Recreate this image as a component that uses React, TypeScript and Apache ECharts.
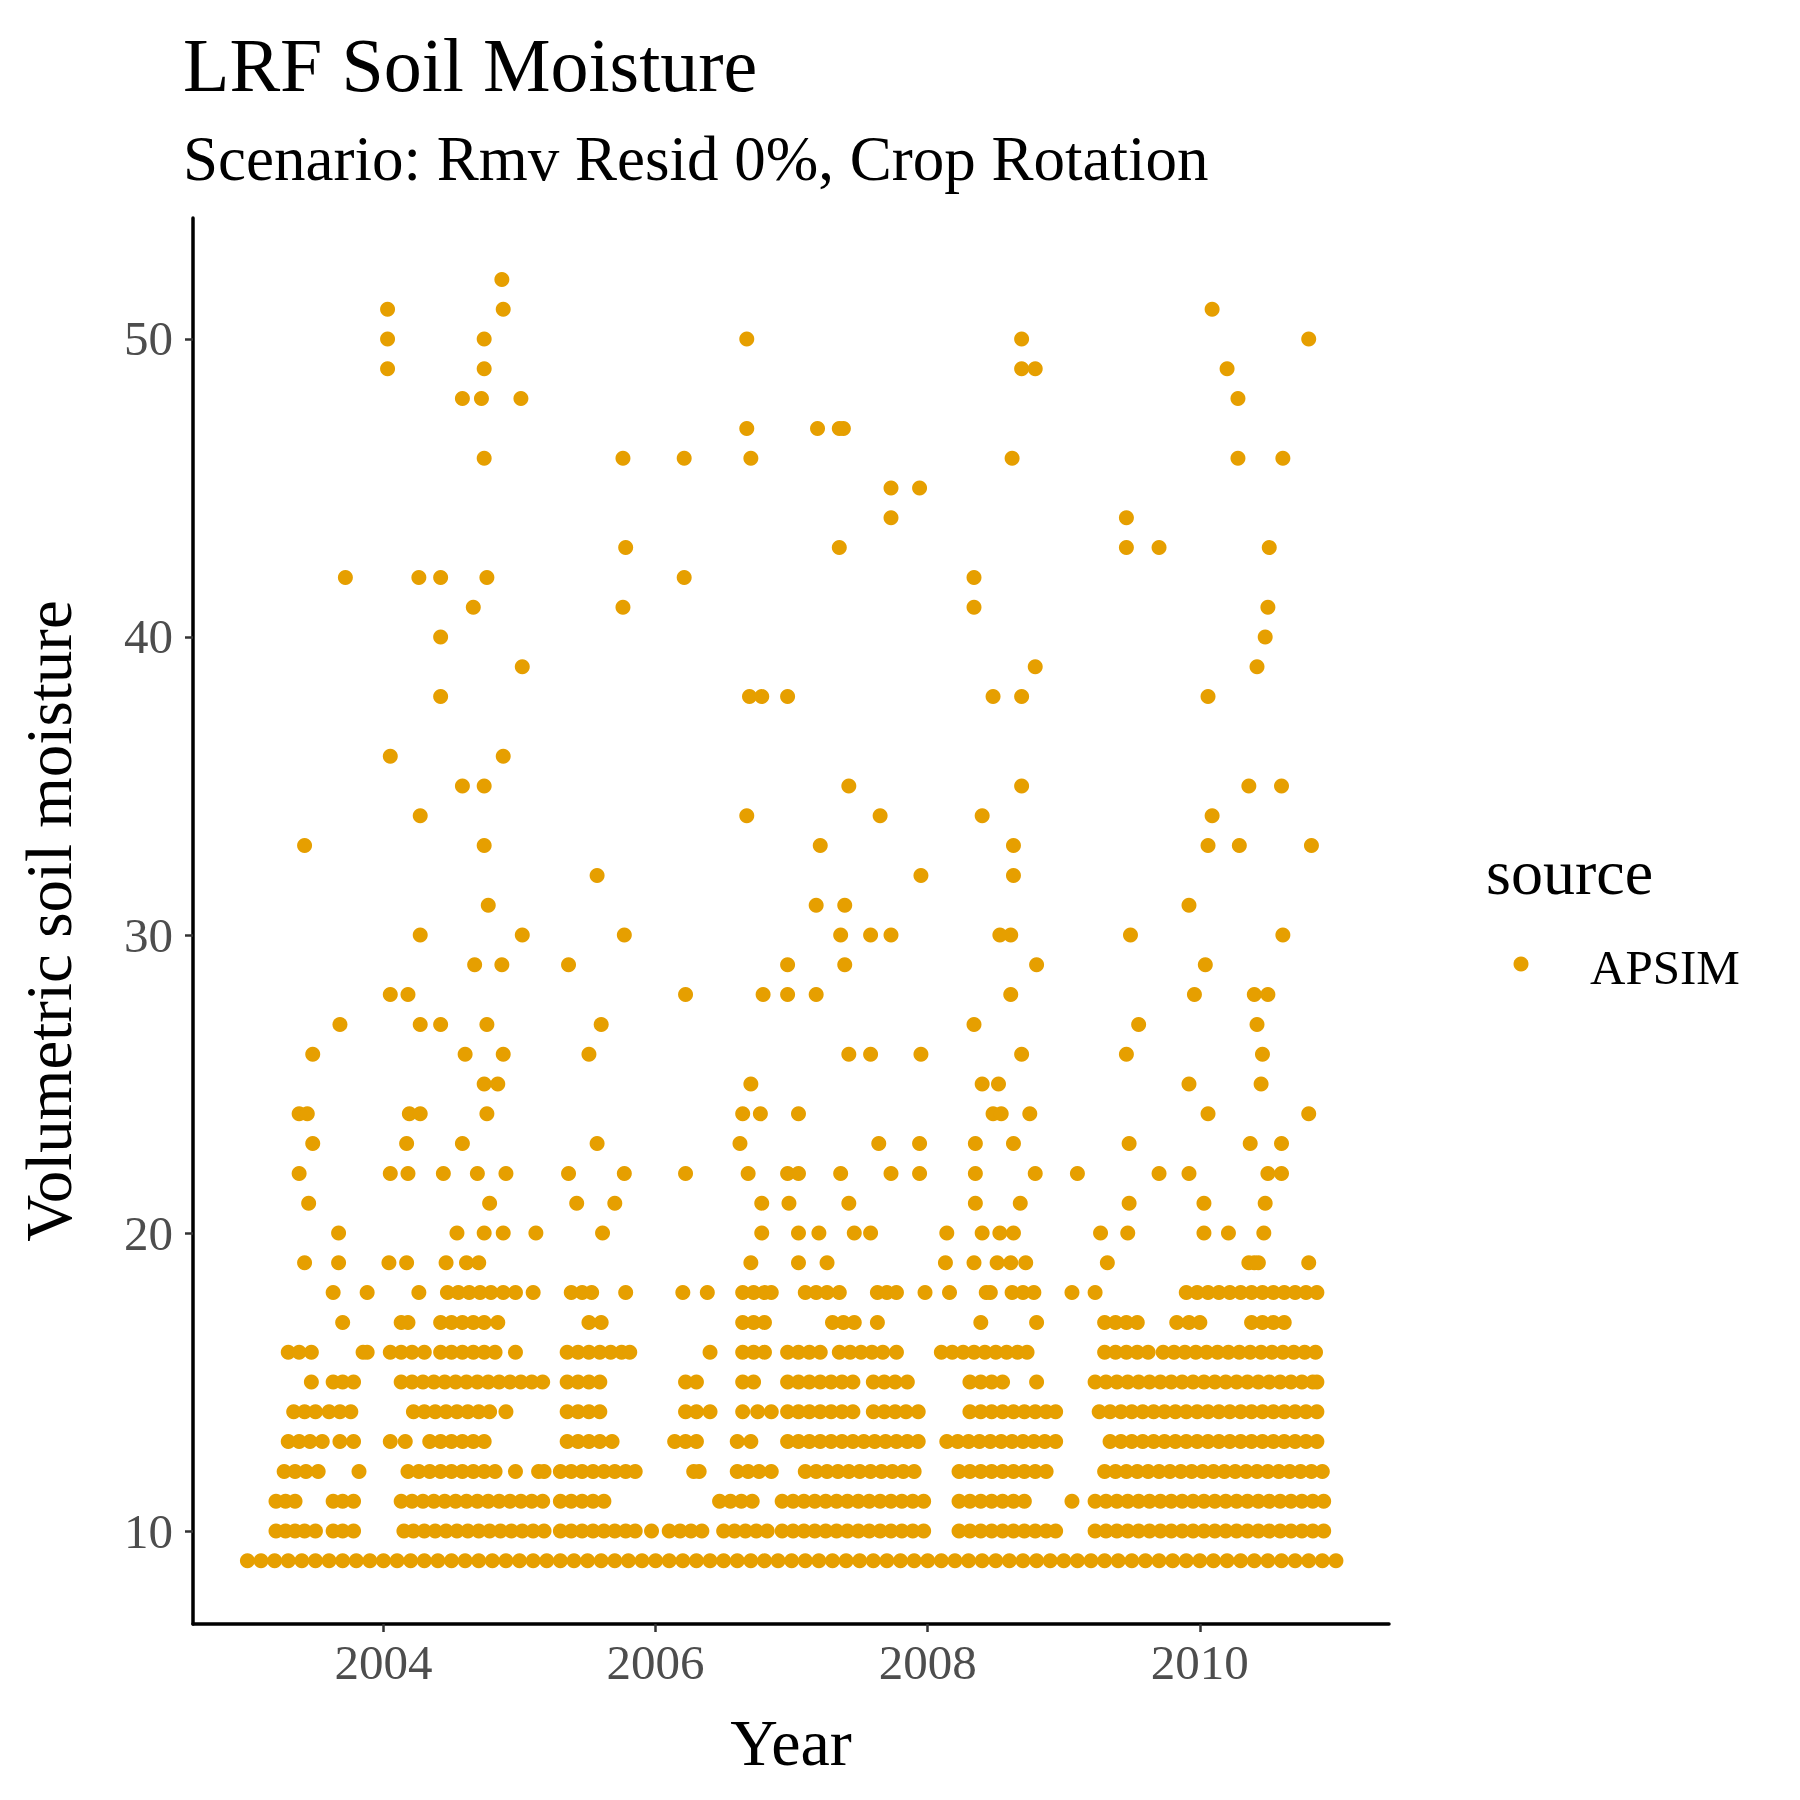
import React, { useEffect, useRef } from "react";
import * as echarts from "echarts";

const xTicks = [2004, 2006, 2008, 2010];
const yTicks = [10, 20, 30, 40, 50];
const seriesName = "APSIM";

const level9 = [2003.0,2003.1,2003.2,2003.3,2003.4,2003.5,2003.6,2003.7,2003.8,2003.9,2004.0,2004.1,2004.2,2004.3,2004.4,2004.5,2004.6,2004.7,2004.8,2004.9,2005.0,2005.1,2005.2,2005.3,2005.4,2005.5,2005.6,2005.7,2005.8,2005.9,2006.0,2006.1,2006.2,2006.3,2006.4,2006.5,2006.6,2006.7,2006.8,2006.9,2007.0,2007.1,2007.2,2007.3,2007.4,2007.5,2007.6,2007.7,2007.8,2007.9,2008.0,2008.1,2008.2,2008.3,2008.4,2008.5,2008.6,2008.7,2008.8,2008.9,2009.0,2009.1,2009.2,2009.3,2009.4,2009.5,2009.6,2009.7,2009.8,2009.9,2010.0,2010.1,2010.2,2010.3,2010.4,2010.5,2010.6,2010.7,2010.8,2010.9,2011.0];
const level10 = [2003.21,2003.28,2003.35,2003.42,2003.5,2003.63,2003.7,2003.78,2004.15,2004.22,2004.3,2004.38,2004.46,2004.54,2004.62,2004.7,2004.78,2004.86,2004.94,2005.02,2005.1,2005.18,2005.3,2005.38,2005.46,2005.54,2005.62,2005.7,2005.78,2005.85,2005.97,2006.1,2006.18,2006.26,2006.34,2006.5,2006.58,2006.66,2006.74,2006.82,2006.93,2007.01,2007.09,2007.17,2007.25,2007.33,2007.41,2007.49,2007.57,2007.65,2007.73,2007.81,2007.89,2007.97,2008.23,2008.31,2008.39,2008.47,2008.55,2008.63,2008.71,2008.79,2008.87,2008.94,2009.23,2009.31,2009.39,2009.47,2009.55,2009.63,2009.71,2009.79,2009.87,2009.95,2010.03,2010.11,2010.19,2010.27,2010.35,2010.43,2010.51,2010.59,2010.67,2010.75,2010.83,2010.91];
const level11 = [2003.21,2003.28,2003.35,2003.63,2003.7,2003.78,2004.13,2004.21,2004.29,2004.37,2004.45,2004.53,2004.61,2004.69,2004.77,2004.85,2004.93,2005.01,2005.09,2005.17,2005.3,2005.38,2005.46,2005.54,2005.62,2006.47,2006.55,2006.63,2006.71,2006.93,2007.01,2007.09,2007.17,2007.25,2007.33,2007.41,2007.49,2007.57,2007.65,2007.73,2007.81,2007.89,2007.97,2008.23,2008.31,2008.39,2008.47,2008.55,2008.63,2008.71,2009.06,2009.23,2009.31,2009.39,2009.47,2009.55,2009.63,2009.71,2009.79,2009.87,2009.95,2010.03,2010.11,2010.19,2010.27,2010.35,2010.43,2010.51,2010.59,2010.67,2010.75,2010.83,2010.91];
const level12 = [2003.27,2003.35,2003.43,2003.52,2003.82,2004.18,2004.26,2004.34,2004.42,2004.5,2004.58,2004.66,2004.74,2004.82,2004.97,2005.14,2005.18,2005.3,2005.38,2005.46,2005.54,2005.62,2005.7,2005.78,2005.85,2006.28,2006.32,2006.6,2006.68,2006.76,2006.85,2007.1,2007.18,2007.26,2007.34,2007.42,2007.5,2007.58,2007.66,2007.74,2007.82,2007.9,2008.23,2008.31,2008.39,2008.47,2008.55,2008.63,2008.71,2008.79,2008.87,2009.3,2009.38,2009.46,2009.54,2009.62,2009.7,2009.78,2009.86,2009.94,2010.02,2010.1,2010.18,2010.26,2010.34,2010.42,2010.5,2010.58,2010.66,2010.74,2010.82,2010.9];
const level13 = [2003.3,2003.38,2003.46,2003.55,2003.68,2003.78,2004.05,2004.16,2004.34,2004.42,2004.5,2004.58,2004.66,2004.74,2005.35,2005.43,2005.51,2005.59,2005.68,2006.14,2006.22,2006.3,2006.6,2006.7,2006.97,2007.05,2007.13,2007.21,2007.29,2007.37,2007.45,2007.53,2007.61,2007.69,2007.77,2007.85,2007.93,2008.14,2008.22,2008.3,2008.38,2008.46,2008.54,2008.62,2008.7,2008.78,2008.86,2008.94,2009.34,2009.42,2009.5,2009.58,2009.66,2009.74,2009.82,2009.9,2009.98,2010.06,2010.14,2010.22,2010.3,2010.38,2010.46,2010.54,2010.62,2010.7,2010.78,2010.86];
const level14 = [2003.34,2003.42,2003.5,2003.6,2003.68,2003.76,2004.22,2004.3,2004.38,2004.46,2004.54,2004.62,2004.7,2004.78,2004.9,2005.35,2005.43,2005.51,2005.59,2006.22,2006.3,2006.4,2006.64,2006.75,2006.85,2006.97,2007.05,2007.13,2007.21,2007.29,2007.37,2007.45,2007.6,2007.68,2007.76,2007.84,2007.93,2008.31,2008.39,2008.47,2008.55,2008.63,2008.71,2008.79,2008.87,2008.94,2009.26,2009.34,2009.42,2009.5,2009.58,2009.66,2009.74,2009.82,2009.9,2009.98,2010.06,2010.14,2010.22,2010.3,2010.38,2010.46,2010.54,2010.62,2010.7,2010.78,2010.86];
const level15 = [2003.47,2003.63,2003.7,2003.78,2004.13,2004.21,2004.29,2004.37,2004.45,2004.53,2004.61,2004.69,2004.77,2004.85,2004.93,2005.01,2005.09,2005.17,2005.35,2005.43,2005.51,2005.59,2006.22,2006.3,2006.64,2006.72,2006.97,2007.05,2007.13,2007.21,2007.29,2007.37,2007.45,2007.6,2007.68,2007.76,2007.85,2008.31,2008.39,2008.47,2008.55,2008.8,2009.23,2009.31,2009.39,2009.47,2009.55,2009.63,2009.71,2009.79,2009.87,2009.95,2010.03,2010.11,2010.19,2010.27,2010.35,2010.43,2010.51,2010.59,2010.67,2010.75,2010.83,2010.86];
const level16 = [2003.3,2003.38,2003.47,2003.85,2003.88,2004.05,2004.13,2004.21,2004.3,2004.42,2004.5,2004.58,2004.66,2004.74,2004.82,2004.97,2005.35,2005.43,2005.51,2005.59,2005.67,2005.75,2005.81,2006.4,2006.64,2006.72,2006.8,2006.97,2007.05,2007.13,2007.21,2007.35,2007.43,2007.51,2007.59,2007.67,2007.77,2008.1,2008.18,2008.26,2008.34,2008.42,2008.5,2008.58,2008.66,2008.73,2009.3,2009.38,2009.46,2009.54,2009.62,2009.73,2009.81,2009.89,2009.97,2010.05,2010.13,2010.21,2010.29,2010.37,2010.45,2010.53,2010.61,2010.69,2010.77,2010.85];
const level17 = [2003.7,2004.13,2004.18,2004.42,2004.5,2004.58,2004.66,2004.74,2004.84,2005.51,2005.6,2006.64,2006.72,2006.8,2007.3,2007.38,2007.46,2007.63,2008.39,2008.8,2009.3,2009.38,2009.46,2009.54,2009.83,2009.92,2010.0,2010.38,2010.46,2010.54,2010.62];
const level18 = [2003.63,2003.88,2004.26,2004.47,2004.55,2004.63,2004.71,2004.79,2004.88,2004.97,2005.1,2005.38,2005.46,2005.53,2005.78,2006.2,2006.38,2006.64,2006.72,2006.8,2006.85,2007.1,2007.18,2007.26,2007.35,2007.63,2007.7,2007.77,2007.98,2008.16,2008.43,2008.46,2008.62,2008.7,2008.78,2009.06,2009.23,2009.9,2009.98,2010.06,2010.14,2010.22,2010.3,2010.38,2010.46,2010.54,2010.62,2010.7,2010.78,2010.86];
const level19 = [2003.42,2003.67,2004.04,2004.17,2004.46,2004.61,2004.7,2006.7,2007.05,2007.26,2008.13,2008.34,2008.51,2008.61,2008.72,2009.32,2010.36,2010.4,2010.43,2010.8];
const level20 = [2003.67,2004.54,2004.74,2004.88,2005.12,2005.61,2006.78,2007.05,2007.2,2007.46,2007.58,2008.14,2008.4,2008.53,2008.63,2009.27,2009.47,2010.03,2010.21,2010.47];
const level21 = [2003.45,2004.78,2005.42,2005.7,2006.78,2006.98,2007.42,2008.35,2008.68,2009.48,2010.03,2010.48];
const level22 = [2003.38,2004.05,2004.18,2004.44,2004.69,2004.9,2005.36,2005.77,2006.22,2006.68,2006.97,2007.05,2007.36,2007.73,2007.94,2008.35,2008.79,2009.1,2009.7,2009.92,2010.5,2010.6];
const level23 = [2003.48,2004.17,2004.58,2005.57,2006.62,2007.64,2007.94,2008.35,2008.63,2009.48,2010.37,2010.6];
const level24 = [2003.38,2003.44,2004.19,2004.27,2004.76,2006.64,2006.77,2007.05,2008.48,2008.54,2008.75,2010.06,2010.8];
const level25 = [2004.74,2004.84,2006.7,2008.4,2008.52,2009.92,2010.45];
const level26 = [2003.48,2004.6,2004.88,2005.51,2007.42,2007.58,2007.95,2008.69,2009.46,2010.46];
const level27 = [2003.68,2004.27,2004.42,2004.76,2005.6,2008.34,2009.55,2010.42];
const level28 = [2004.05,2004.18,2006.22,2006.79,2006.97,2007.18,2008.61,2009.96,2010.4,2010.5];
const level29 = [2004.67,2004.87,2005.36,2006.97,2007.39,2008.8,2010.04];
const level30 = [2004.27,2005.02,2005.77,2007.36,2007.58,2007.73,2008.53,2008.61,2009.49,2010.61];
const level31 = [2004.77,2007.18,2007.39,2009.92];
const level32 = [2005.57,2007.95,2008.63];
const level33 = [2003.42,2004.74,2007.21,2008.63,2010.06,2010.29,2010.82];
const level34 = [2004.27,2006.67,2007.65,2008.4,2010.09];
const level35 = [2004.58,2004.74,2007.42,2008.69,2010.36,2010.6];
const level36 = [2004.05,2004.88];
const level38 = [2004.42,2006.69,2006.78,2006.97,2008.48,2008.69,2010.06];
const level39 = [2005.02,2008.79,2010.42];
const level40 = [2004.42,2010.48];
const level41 = [2004.66,2005.76,2008.34,2010.5];
const level42 = [2003.72,2004.26,2004.42,2004.76,2006.21,2008.34];
const level43 = [2005.78,2007.35,2009.46,2009.7,2010.51];
const level44 = [2007.73,2009.46];
const level45 = [2007.73,2007.94];
const level46 = [2004.74,2005.76,2006.21,2006.7,2008.62,2010.28,2010.61];
const level47 = [2006.67,2007.19,2007.35,2007.38];
const level48 = [2004.58,2004.72,2005.01,2010.28];
const level49 = [2004.03,2004.74,2008.69,2008.79,2010.2];
const level50 = [2004.03,2004.74,2006.67,2008.69,2010.8];
const level51 = [2004.03,2004.88,2010.09];
const level52 = [2004.87];

const levels: [number, number[]][] = [
  [9, level9],[10, level10],[11, level11],[12, level12],[13, level13],[14, level14],[15, level15],[16, level16],[17, level17],[18, level18],[19, level19],[20, level20],[21, level21],[22, level22],[23, level23],[24, level24],[25, level25],[26, level26],[27, level27],[28, level28],[29, level29],[30, level30],[31, level31],[32, level32],[33, level33],[34, level34],[35, level35],[36, level36],[38, level38],[39, level39],[40, level40],[41, level41],[42, level42],[43, level43],[44, level44],[45, level45],[46, level46],[47, level47],[48, level48],[49, level49],[50, level50],[51, level51],[52, level52],
];

const FONT = "Liberation Serif";
const COLOR = "#E69F00";

export default function App() {
  const ref = useRef<HTMLDivElement>(null);
  useEffect(() => {
    const chart = echarts.init(ref.current!, null, { renderer: "svg" });
    const data: number[][] = [];
    levels.forEach(([v, xs]) => xs.forEach((x) => data.push([x, v])));
    chart.setOption({
      animation: false,
      backgroundColor: "#fff",
      textStyle: { fontFamily: FONT },
      title: [
        { text: "LRF Soil Moisture", left: 170, top: 14, textStyle: { fontFamily: FONT, fontSize: 76, fontWeight: "normal", color: "#000" } },
        { text: "Scenario: Rmv Resid 0%, Crop Rotation", left: 170, top: 114, textStyle: { fontFamily: FONT, fontSize: 63, fontWeight: "normal", color: "#000" } },
      ],
      grid: { left: 172, right: 419, top: 210, bottom: 184 },
      xAxis: {
        type: "value", min: 2002.6, max: 2011.39, name: "Year", nameLocation: "middle", nameGap: 85,
        nameTextStyle: { fontFamily: FONT, fontSize: 66, color: "#000" },
        axisLine: { show: true, onZero: false, lineStyle: { color: "#000", width: 3.5 } },
        axisTick: { show: true, length: 8, lineStyle: { color: "#333", width: 2.5 }, customValues: xTicks },
        axisLabel: { fontFamily: FONT, fontSize: 49, color: "#4d4d4d", margin: 14, customValues: xTicks, formatter: (v: number) => String(v) },
        splitLine: { show: false },
      },
      yAxis: {
        type: "value", min: 6.88, max: 54.06, name: "Volumetric soil moisture", nameLocation: "middle", nameGap: 112,
        nameTextStyle: { fontFamily: FONT, fontSize: 65, color: "#000" },
        axisLine: { show: true, onZero: false, lineStyle: { color: "#000", width: 3.5 } },
        axisTick: { show: true, length: 8, lineStyle: { color: "#333", width: 2.5 }, customValues: yTicks },
        axisLabel: { fontFamily: FONT, fontSize: 49, color: "#4d4d4d", margin: 20, customValues: yTicks, formatter: (v: number) => String(v) },
        splitLine: { show: false },
      },
      series: [{ type: "scatter", name: seriesName, data, symbolSize: 15, itemStyle: { color: COLOR, opacity: 1 } }],
      graphic: [
        { type: "text", left: 1478, top: 832, style: { text: "source", fontFamily: FONT, fontSize: 64, fill: "#000" } },
        { type: "circle", shape: { cx: 1513, cy: 956, r: 7.5 }, style: { fill: COLOR } },
        { type: "text", left: 1582, top: 935, style: { text: seriesName, fontFamily: FONT, fontSize: 49, fill: "#000" } },
      ],
    });
    return () => chart.dispose();
  }, []);
  return <div ref={ref} style={{ width: 1800, height: 1800 }} />;
}
